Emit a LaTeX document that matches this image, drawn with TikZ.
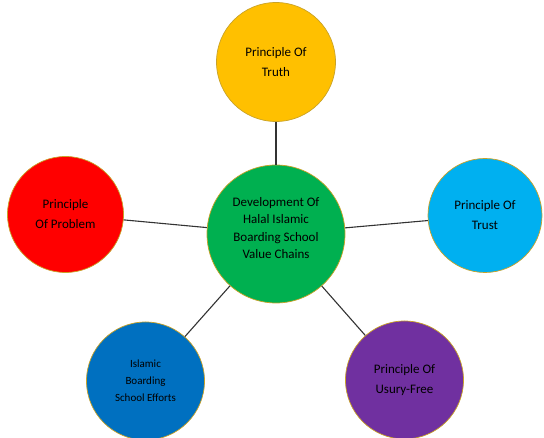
\documentclass[tikz,border=0pt]{standalone}
\usepackage{fontspec}
\setmainfont{Carlito}
\begin{document}
\begin{tikzpicture}[x=1pt,y=1pt,
  bub/.style={circle,draw=ringc,line width=0.7pt,inner sep=0pt,align=center,text=black,font=\fontsize{13}{20}\selectfont},
  link/.style={draw=black!80,line width=1.1pt}]
\definecolor{ringc}{HTML}{C9A227}
\definecolor{cyel}{HTML}{FFC000}
\definecolor{cgrn}{HTML}{00B050}
\definecolor{cltb}{HTML}{00B0F0}
\definecolor{cpur}{HTML}{7030A0}
\definecolor{cred}{HTML}{FF0000}
\definecolor{cblu}{HTML}{0070C0}
\useasboundingbox (0,0) rectangle (544,438);
\node[bub,fill=cgrn,minimum size=138pt,font=\fontsize{13}{17.5}\selectfont] (c) at (276,204) {Development Of\\Halal Islamic\\Boarding School\\Value Chains\\[-5pt]};
\node[bub,fill=cyel,minimum size=119pt] (t) at (276,376) {Principle Of\\Truth};
\node[bub,fill=cred,minimum size=116pt] (p) at (65.5,223.5) {Principle\\Of Problem};
\node[bub,fill=cltb,minimum size=114pt] (r) at (485,222.5) {Principle Of\\Trust};
\node[bub,fill=cpur,minimum size=118pt] (u) at (404.5,58) {Principle Of\\Usury-Free};
\node[bub,fill=cblu,minimum size=118pt,font=\fontsize{11}{17}\selectfont] (e) at (145.5,57) {Islamic\\Boarding\\School Efforts};
\draw[link] (c) -- (t);
\draw[link] (c) -- (p);
\draw[link] (c) -- (r);
\draw[link] (c) -- (u);
\draw[link] (c) -- (e);
\end{tikzpicture}
\end{document}
